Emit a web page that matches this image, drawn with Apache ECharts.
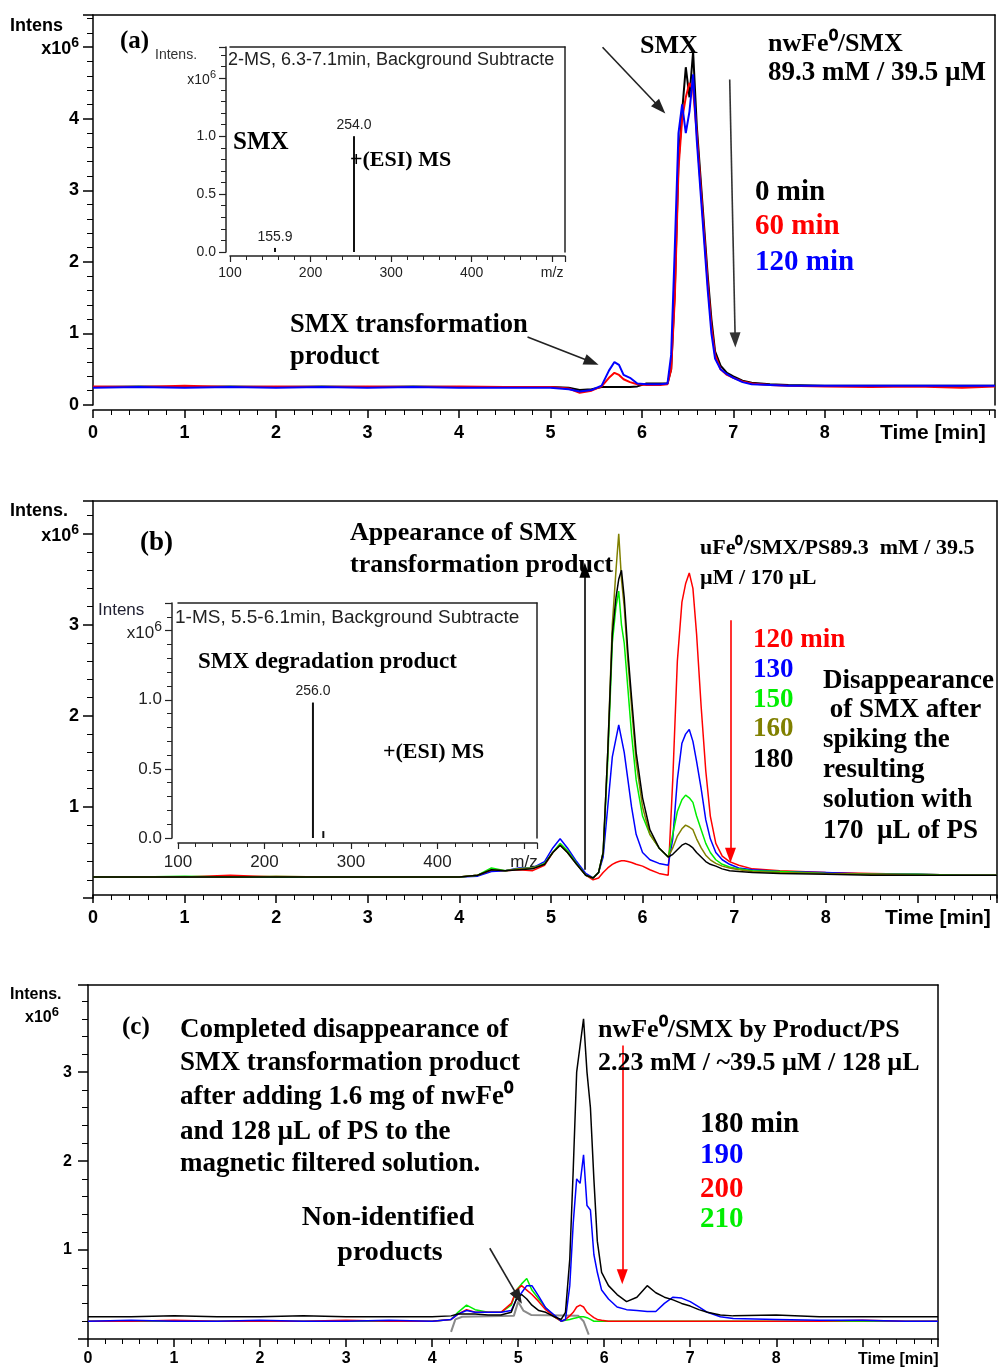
<!DOCTYPE html>
<html><head><meta charset="utf-8">
<script src="https://cdn.jsdelivr.net/npm/echarts@6.0.0/dist/echarts.min.js"></script>
<style>html,body{margin:0;padding:0;background:#fff}#c{width:1000px;height:1372px}</style>
</head><body><div id="c"></div>
<script>
// ---------- Panel (a): nwFe0/SMX, 0 / 60 / 120 min ----------
const tA = [0,0.5,1,1.5,2,2.5,3,3.5,4,4.5, 5.0,5.2,5.32,5.45,5.56,5.64,5.7,5.75,5.8,5.87,
  5.95,6.05,6.2,6.28,6.32,6.36,6.40,6.44,6.48,6.52, 6.56,6.60,6.64,6.68,6.72,6.76,6.80,6.86,6.93,7.0,
  7.1,7.2,7.4,7.6,8.0,8.5,9.0,9.5,9.86];
const a0min = [0.25,0.26,0.25,0.26,0.25,0.26,0.25,0.26,0.25,0.25, 0.25,0.24,0.21,0.22,0.25,0.25,0.25,0.25,0.25,0.25,
  0.26,0.3,0.3,0.3,0.5,1.6,3.4,4.1,4.72,4.3, 4.94,3.9,3.2,2.5,1.8,1.2,0.75,0.55,0.45,0.4,
  0.34,0.31,0.29,0.28,0.27,0.27,0.27,0.27,0.27];
const a60min = [0.26,0.25,0.27,0.25,0.26,0.25,0.26,0.25,0.26,0.25, 0.25,0.23,0.17,0.2,0.26,0.38,0.45,0.42,0.36,0.32,
  0.29,0.28,0.28,0.29,0.5,1.5,3.3,4.0,4.3,4.5, 4.4,3.8,3.1,2.4,1.7,1.1,0.7,0.5,0.42,0.38,
  0.33,0.3,0.28,0.27,0.26,0.25,0.26,0.24,0.26];
const a120min = [0.24,0.25,0.24,0.25,0.24,0.25,0.24,0.25,0.24,0.24, 0.24,0.22,0.19,0.21,0.27,0.48,0.6,0.56,0.42,0.38,
  0.3,0.29,0.29,0.3,0.7,2.2,3.8,4.2,3.8,4.1, 4.62,3.7,3.0,2.3,1.6,1.0,0.65,0.5,0.43,0.38,
  0.32,0.29,0.28,0.27,0.27,0.27,0.27,0.27,0.27];
// arrows [x1,y1,x2,y2,color] in data units
const arrowsA = [[5.57,5.0,6.2,4.15,'#222'],[6.96,4.55,7.02,0.91,'#333'],[4.75,0.95,5.45,0.6,'#222']];
// inset (a) mass spectrum
const mzA = [155.9, 254.0];
const intA = [0.035, 1.0];
const labA = ['155.9','254.0'];

// ---------- Panel (b): nwFe0/SMX/PS, 120..180 min ----------
const tB = [0,0.5,1,1.5,2,2.5,3,3.5,4,4.2, 4.35,4.5,4.65,4.8,4.93,5.02,5.1,5.18,5.28,5.38,
  5.46,5.52,5.57,5.62,5.67,5.71,5.74,5.77,5.8,5.84, 5.88,5.93,6.0,6.08,6.18,6.28,6.33,6.38,6.43,6.47,
  6.51,6.55,6.59,6.64,6.69,6.74,6.8,6.87,6.95,7.05, 7.2,7.5,8.0,8.5,9.0,9.5,9.87];
const b120 = [0.23,0.23,0.23,0.25,0.23,0.23,0.23,0.23,0.23,0.25, 0.3,0.3,0.31,0.3,0.36,0.5,0.58,0.52,0.38,0.25,
  0.2,0.22,0.28,0.33,0.37,0.39,0.4,0.41,0.41,0.4, 0.39,0.37,0.35,0.31,0.27,0.25,1.3,2.6,3.25,3.45,
  3.57,3.4,2.9,2.1,1.4,0.9,0.6,0.46,0.4,0.36, 0.32,0.3,0.28,0.27,0.26,0.25,0.25];
const b130 = [0.23,0.23,0.23,0.23,0.23,0.23,0.23,0.23,0.23,0.24, 0.29,0.3,0.33,0.33,0.4,0.55,0.65,0.55,0.4,0.27,
  0.22,0.28,0.45,1.0,1.55,1.75,1.9,1.75,1.6,1.3, 1.0,0.7,0.5,0.42,0.38,0.36,0.65,1.3,1.7,1.8,
  1.85,1.72,1.5,1.2,0.86,0.65,0.5,0.42,0.37,0.33, 0.31,0.29,0.28,0.26,0.26,0.25,0.25];
const b150 = [0.23,0.23,0.24,0.23,0.23,0.23,0.23,0.23,0.23,0.25, 0.33,0.3,0.32,0.33,0.38,0.5,0.6,0.52,0.38,0.25,
  0.22,0.28,0.5,1.5,2.8,3.2,3.37,3.0,2.8,2.3, 1.8,1.3,0.9,0.7,0.55,0.45,0.7,0.95,1.08,1.13,
  1.1,1.05,0.9,0.75,0.6,0.5,0.42,0.37,0.34,0.32, 0.3,0.29,0.27,0.26,0.26,0.25,0.25];
const b160 = [0.23,0.23,0.23,0.23,0.24,0.23,0.23,0.23,0.23,0.25, 0.31,0.3,0.32,0.33,0.37,0.5,0.58,0.5,0.37,0.25,
  0.22,0.28,0.5,1.6,3.0,3.6,4.0,3.5,3.2,2.6, 2.1,1.5,1.0,0.7,0.55,0.45,0.55,0.68,0.76,0.8,
  0.78,0.75,0.65,0.55,0.47,0.42,0.38,0.35,0.33,0.31, 0.29,0.28,0.27,0.26,0.25,0.25,0.25];
const b180 = [0.23,0.23,0.23,0.23,0.23,0.23,0.23,0.23,0.23,0.25, 0.31,0.3,0.31,0.32,0.37,0.5,0.58,0.5,0.37,0.25,
  0.22,0.28,0.5,1.6,2.9,3.3,3.5,3.6,3.3,2.7, 2.2,1.6,1.1,0.75,0.55,0.45,0.48,0.53,0.58,0.6,
  0.58,0.55,0.5,0.45,0.4,0.37,0.35,0.32,0.3,0.29, 0.28,0.27,0.26,0.25,0.25,0.25,0.25];
const arrowsB = [[5.37,0.31,5.37,3.6,'#000'],[6.96,3.05,6.96,0.47,'#ff0000']];
// inset (b) mass spectrum
const mzB = [256.0, 268.0];
const intB = [0.98, 0.05];
const labB = ['256.0',''];

// ---------- Panel (c): nwFe0/SMX by product/PS, 180..210 min ----------
const tC = [0,0.5,1,1.5,2,2.5,3,3.5,4,4.22, 4.3,4.4,4.5,4.65,4.8,4.92,4.98,5.04,5.1,5.16,
  5.24,5.32,5.42,5.5,5.55,5.6,5.64,5.68,5.72,5.76, 5.8,5.84,5.88,5.92,5.97,6.05,6.15,6.26,6.38,6.5,
  6.6,6.7,6.8,6.9,7.0,7.1,7.2,7.35,7.5,8.0, 8.5,9.0,9.5,9.88];
const c180 = [0.25,0.25,0.26,0.25,0.25,0.26,0.25,0.25,0.25,0.26, 0.28,0.28,0.28,0.27,0.27,0.3,0.45,0.5,0.45,0.38,
  0.32,0.3,0.25,0.22,0.3,0.9,1.9,3.0,3.3,3.6, 3.0,2.6,1.8,1.1,0.75,0.6,0.5,0.42,0.47,0.6,
  0.52,0.47,0.44,0.4,0.37,0.33,0.3,0.27,0.26,0.27, 0.25,0.25,0.25,0.25];
const c190 = [0.2,0.21,0.2,0.2,0.21,0.2,0.2,0.21,0.2,0.22, 0.28,0.32,0.3,0.3,0.3,0.32,0.45,0.52,0.6,0.6,
  0.48,0.35,0.27,0.2,0.22,0.6,1.3,1.8,1.75,2.07, 1.5,1.45,0.95,0.75,0.55,0.45,0.36,0.33,0.32,0.31,
  0.31,0.4,0.47,0.46,0.42,0.36,0.3,0.25,0.23,0.22, 0.21,0.21,0.2,0.2];
const c200 = [0.2,0.2,0.21,0.2,0.2,0.2,0.21,0.2,0.2,0.22, 0.28,0.33,0.3,0.3,0.3,0.4,0.55,0.6,0.55,0.5,
  0.42,0.33,0.25,0.2,0.22,0.26,0.3,0.36,0.38,0.36, 0.3,0.27,0.24,0.22,0.21,0.2,0.2,0.2,0.2,0.2,
  0.2,0.2,0.2,0.2,0.2,0.2,0.2,0.2,0.2,0.2, 0.2,0.21,0.2,0.2];
const c210 = [0.2,0.2,0.2,0.2,0.2,0.2,0.2,0.2,0.2,0.22, 0.3,0.38,0.33,0.3,0.3,0.38,0.55,0.62,0.68,0.55,
  0.45,0.35,0.25,0.2,0.21,0.22,0.23,0.24,0.25,0.25, 0.24,0.22,0.2,0.2,0.2,0.2,0.2,0.2,0.2,0.2,
  0.2,0.2,0.2,0.2,0.2,0.2,0.2,0.2,0.2,0.2, 0.2,0.2,0.2,0.2];
const tGray = [4.22,4.27,4.35,4.95,5.0,5.06,5.15,5.7,5.76,5.82];
const cGray = [0.08,0.22,0.25,0.26,0.42,0.32,0.27,0.26,0.2,0.05];
const arrowsC = [[6.21,3.3,6.21,0.7,'#ff0000'],[4.67,1.02,5.0,0.47,'#222']];

// ---------- helpers ----------
const SERIF = '"Liberation Serif","Times New Roman",serif';
const SANS = '"Liberation Sans",Arial,sans-serif';
const isInt = v => Math.abs(v - Math.round(v)) < 1e-6;

function supRich(fs, weight, color) {
  return {
    n:{fontFamily:SANS, fontWeight:weight, fontSize:fs, color:color, verticalAlign:'bottom'},
    s:{fontFamily:SANS, fontWeight:weight, fontSize:Math.round(fs*0.8), color:color, verticalAlign:'top',
       padding:[0,0,Math.round(fs*0.45),0]}
  };
}
function mainX(grid, max, offset, fs, margin) {
  return {type:'value', gridIndex:grid, min:0, max:max, interval:1, offset:offset,
    axisLine:{show:true, onZero:false, lineStyle:{color:'#000', width:1.5}},
    axisTick:{show:true, length:8, lineStyle:{color:'#000', width:1.5}},
    minorTick:{show:true, splitNumber:5, length:5, lineStyle:{color:'#000', width:1}},
    splitLine:{show:false}, minorSplitLine:{show:false},
    axisLabel:{fontFamily:SANS, fontWeight:'bold', fontSize:fs, color:'#000', margin:margin,
      formatter: v => (isInt(v) && v < 9) ? String(Math.round(v)) : ''}};
}
function mainY(grid, max, fs, margin, x10at, showZero) {
  return {type:'value', gridIndex:grid, min:0, max:max, interval:1,
    axisLine:{show:true, onZero:false, lineStyle:{color:'#000', width:1.5}},
    axisTick:{show:true, length:10, lineStyle:{color:'#000', width:1.5}},
    minorTick:{show:true, splitNumber:5, length:6, lineStyle:{color:'#000', width:1}},
    splitLine:{show:false}, minorSplitLine:{show:false},
    axisLabel:{fontFamily:SANS, fontWeight:'bold', fontSize:fs, color:'#000', margin:margin,
      rich: supRich(fs, 'bold', '#000'),
      formatter: v => {
        if (!isInt(v)) return '';
        const r = Math.round(v);
        if (r === x10at) return '{n|x10}{s|6}';
        if (r === 0 && !showZero) return '';
        return String(r);
      }}};
}
function insetX(grid, max, offset, fs, margin) {
  return {type:'value', gridIndex:grid, min:100, max:max, interval:100, offset:offset,
    axisLine:{show:true, onZero:false, lineStyle:{color:'#222', width:1.5}},
    axisTick:{show:true, length:6, lineStyle:{color:'#222', width:1.2}},
    minorTick:{show:true, splitNumber:5, length:4, lineStyle:{color:'#222', width:1}},
    splitLine:{show:false},
    axisLabel:{fontFamily:SANS, fontSize:fs, color:'#222', margin:margin,
      formatter: v => (v % 100 === 0) ? (v === 500 ? 'm/z' : String(v)) : ''}};
}
function insetY(grid, max, offset, fs, margin) {
  return {type:'value', gridIndex:grid, min:0, max:max, interval:0.5, offset:offset,
    axisLine:{show:true, onZero:false, lineStyle:{color:'#222', width:1.5}},
    axisTick:{show:true, length:7, lineStyle:{color:'#222', width:1.2}},
    minorTick:{show:true, splitNumber:5, length:5, lineStyle:{color:'#222', width:1}},
    splitLine:{show:false},
    axisLabel:{fontFamily:SANS, fontSize:fs, color:'#222', margin:margin,
      rich: supRich(fs, 'normal', '#222'),
      formatter: v => {
        const k = Math.round(v*10);
        if (Math.abs(v*2 - Math.round(v*2)) > 1e-6) return '';
        if (k === 15) return '{n|x10}{s|6}';
        return (k/10).toFixed(1);
      }}};
}
function frame(grid, pos, color) {
  return {type:'value', gridIndex:grid, position:pos, min:0, max:1,
    axisLine:{show:true, onZero:false, lineStyle:{color:color||'#000', width:1.5}},
    axisTick:{show:false}, axisLabel:{show:false}, splitLine:{show:false}};
}
function trace(name, xs, ys, color, axis, width, z) {
  return {type:'line', name:name, xAxisIndex:axis, yAxisIndex:axis, symbol:'none', showSymbol:false,
    data: xs.map((t,i) => [t, ys[i]]), lineStyle:{color:color, width:width}, itemStyle:{color:color},
    animation:false, silent:true, z:z||2};
}
function arrows(list) {
  return {silent:true, symbol:['none','triangle'], symbolSize:[11,15], animation:false,
    label:{show:false}, lineStyle:{type:'solid', width:1.6, color:'#222'},
    data: list.map(a => [{coord:[a[0],a[1]], lineStyle:{color:a[4], type:'solid', width:1.6}, itemStyle:{color:a[4]}},
                         {coord:[a[2],a[3]], itemStyle:{color:a[4]}}])};
}
function sticks(mz, it, labs, axis) {
  return {type:'bar', xAxisIndex:axis, yAxisIndex:axis, barWidth:2, animation:false, silent:true, z:5,
    itemStyle:{color:'#111'},
    label:{position:'top', distance:4, fontFamily:SANS, fontSize:14, color:'#222'},
    data: mz.map((m,i) => ({value:[m, it[i]], label:{show: labs[i] !== '', formatter: labs[i]}}))};
}
function txt(x, y, s, size, color, family, weight, align) {
  const a = align || 'left';
  return {type:'text', x:x, y:y, z:100, silent:true,
    style:{text:s, fill:color || '#000',
      font:(weight || 'bold') + ' ' + size + 'px ' + (family || SERIF),
      textAlign:a, align:a, textVerticalAlign:'middle', verticalAlign:'middle'}};
}
function supTxt(x, y, size) {
  return {type:'text', x:x, y:y, z:100, silent:true,
    style:{text:'{n|x10}{s|6}', rich: supRich(size, 'bold', '#000'),
      textAlign:'left', align:'left', textVerticalAlign:'middle', verticalAlign:'middle'}};
}

// ---------- series ----------
const sA0 = trace('0 min', tA, a0min, '#000000', 0, 2);
sA0.markLine = arrows(arrowsA);
const sB0 = trace('120 min', tB, b120, '#ff0000', 4, 1.5);
sB0.markLine = arrows(arrowsB);
const sC0 = trace('gray', tGray, cGray, '#8a8a8a', 8, 2);
sC0.markLine = arrows(arrowsC);

const option = {
  backgroundColor:'#ffffff',
  animation:false,
  grid:[
    {left:93, right:5, top:15, bottom:967},
    {left:230, right:435, top:47, bottom:1120, show:true, backgroundColor:'#fff', borderWidth:0},
    {left:93, right:2, top:501, bottom:474},
    {left:178, right:463, top:603, bottom:534, show:true, backgroundColor:'#fff', borderWidth:0},
    {left:88, right:62, top:985, bottom:33}
  ],
  xAxis:[
    mainX(0, 9.86, 5, 18, 14), frame(0,'top'),
    insetX(1, 516, 4, 14, 10), frame(1,'top','#222'),
    mainX(2, 9.87, -3, 18, 14), frame(2,'top'),
    insetX(3, 515, 5, 17, 11), frame(3,'top','#222'),
    mainX(4, 9.88, 0, 16, 12), frame(4,'top')
  ],
  yAxis:[
    mainY(0, 5.45, 18, 14, 5, true), frame(0,'right'),
    insetY(1, 1.77, 4, 14, 10), frame(1,'right','#222'),
    mainY(2, 4.36, 18, 14, 4, false), frame(2,'right'),
    insetY(3, 1.70, 6, 17, 10), frame(3,'right','#222'),
    mainY(4, 3.98, 16, 16, -1, false), frame(4,'right')
  ],
  series:[
    sA0,
    trace('60 min', tA, a60min, '#ff0000', 0, 2),
    trace('120 min', tA, a120min, '#0000ff', 0, 2),
    sticks(mzA, intA, labA, 2),
    sB0,
    trace('130', tB, b130, '#0000ff', 4, 1.5),
    trace('150', tB, b150, '#00ee00', 4, 1.5),
    trace('160', tB, b160, '#808000', 4, 1.5),
    trace('180', tB, b180, '#000000', 4, 1.5),
    sticks(mzB, intB, labB, 6),
    sC0,
    trace('210', tC, c210, '#00ee00', 8, 1.5),
    trace('200', tC, c200, '#ff0000', 8, 1.5),
    trace('190', tC, c190, '#0000ff', 8, 1.5),
    trace('180 min', tC, c180, '#000000', 8, 1.5)
  ],
  graphic:[
    // panel a
    txt(10, 26, 'Intens', 18, '#000', SANS, 'bold'),
    txt(120, 42, '(a)', 25),
    txt(640, 46, 'SMX', 26),
    txt(768, 44, 'nwFe⁰/SMX', 26),
    txt(768, 73, '89.3 mM / 39.5 µM', 27),
    txt(755, 193, '0 min', 29, '#000'),
    txt(755, 227, '60 min', 29, '#ff0000'),
    txt(755, 263, '120 min', 29, '#0000ff'),
    txt(290, 325, 'SMX transformation', 26.5),
    txt(290, 357, 'product', 26.5),
    txt(880, 433, 'Time [min]', 21, '#000', SANS, 'bold'),
    // inset a
    txt(155, 55, 'Intens.', 14, '#333', SANS, 'normal'),
    txt(228, 60, '2-MS, 6.3-7.1min, Background Subtracte', 18, '#222', SANS, 'normal'),
    txt(233, 143, 'SMX', 25),
    txt(350, 160, '+(ESI) MS', 22),
    // panel b
    txt(10, 511, 'Intens.', 18, '#000', SANS, 'bold'),
    txt(140, 543, '(b)', 27),
    txt(350, 533, 'Appearance of SMX', 26),
    txt(350, 565, 'transformation product', 26),
    txt(700, 548, 'uFe⁰/SMX/PS89.3  mM / 39.5', 22),
    txt(700, 578, 'µM / 170 µL', 22),
    txt(753, 640, '120 min', 27, '#ff0000'),
    txt(753, 670, '130', 27, '#0000ff'),
    txt(753, 700, '150', 27, '#00ee00'),
    txt(753, 729, '160', 27, '#808000'),
    txt(753, 760, '180', 27, '#000'),
    txt(823, 681, 'Disappearance', 27),
    txt(823, 710, ' of SMX after', 27),
    txt(823, 740, 'spiking the', 27),
    txt(823, 770, 'resulting', 27),
    txt(823, 800, 'solution with', 27),
    txt(823, 831, '170  µL of PS', 27),
    txt(885, 918, 'Time [min]', 21, '#000', SANS, 'bold'),
    // inset b
    txt(98, 610, 'Intens', 17, '#223', SANS, 'normal'),
    txt(175, 618, '1-MS, 5.5-6.1min, Background Subtracte', 19, '#222', SANS, 'normal'),
    txt(198, 662, 'SMX degradation product', 23),
    txt(383, 752, '+(ESI) MS', 22),
    // panel c
    txt(10, 995, 'Intens.', 16, '#000', SANS, 'bold'),
    supTxt(25, 1016, 16),
    txt(122, 1028, '(c)', 25),
    txt(180, 1030, 'Completed disappearance of', 27),
    txt(180, 1063, 'SMX transformation product', 27),
    txt(180, 1097, 'after adding 1.6 mg of nwFe⁰', 27),
    txt(180, 1132, 'and 128 µL of PS to the', 27),
    txt(180, 1164, 'magnetic filtered solution.', 27),
    txt(598, 1030, 'nwFe⁰/SMX by Product/PS', 26),
    txt(598, 1063, '2.23 mM / ~39.5 µM / 128 µL', 26),
    txt(700, 1125, '180 min', 29, '#000'),
    txt(700, 1156, '190', 29, '#0000ff'),
    txt(700, 1190, '200', 29, '#ff0000'),
    txt(700, 1220, '210', 29, '#00ee00'),
    txt(388, 1218, 'Non-identified', 28, '#000', SERIF, 'bold', 'center'),
    txt(390, 1253, 'products', 28, '#000', SERIF, 'bold', 'center'),
    txt(858, 1360, 'Time [min]', 16, '#000', SANS, 'bold')
  ]
};
const chart = echarts.init(document.getElementById('c'), null, {renderer:'canvas'});
chart.setOption(option);
</script></body></html>
